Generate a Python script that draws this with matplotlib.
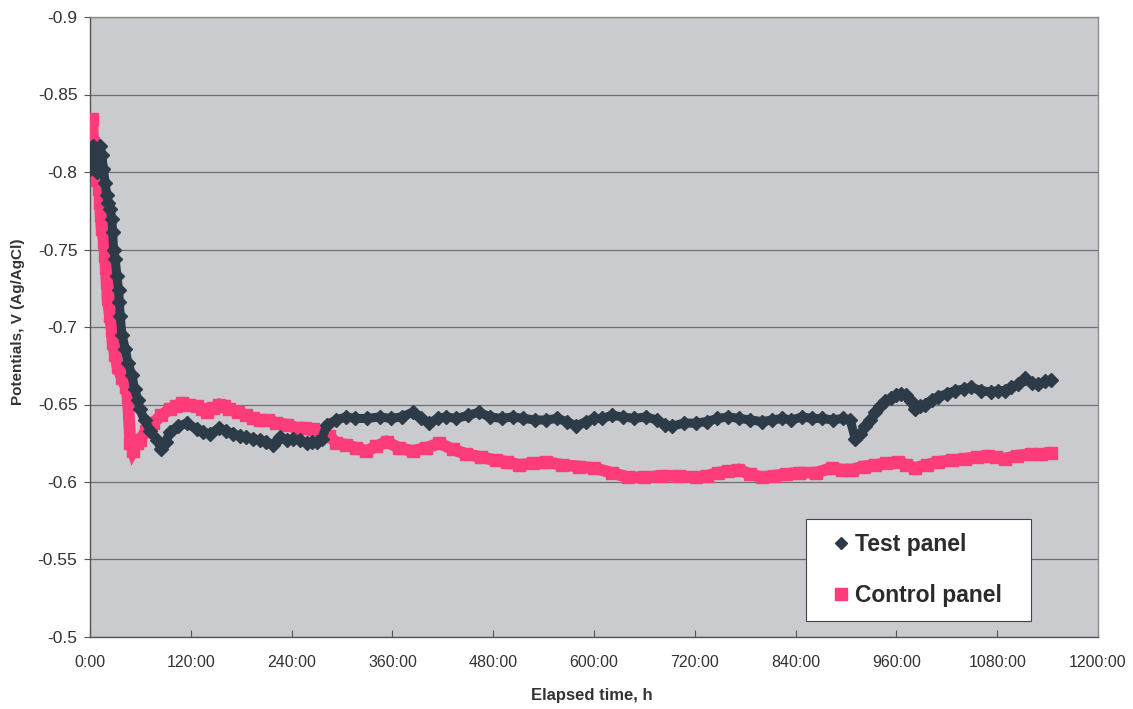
import matplotlib
matplotlib.use("Agg")
import matplotlib.pyplot as plt
from matplotlib.lines import Line2D
from matplotlib.ticker import FixedLocator, FuncFormatter

plt.rcParams['font.family'] = ['Liberation Sans', 'DejaVu Sans']

# ---- data ----
test_hours = [0, 2, 4, 6, 8, 10, 12, 14, 16, 18, 20, 22, 24, 26, 27, 28, 30, 32, 34, 35,
              36, 38, 42, 45, 50, 53, 57, 59, 65, 72, 80, 85, 90, 95, 105, 115, 127, 135,
              143, 154, 162, 170, 178, 186, 194, 202, 210, 218, 226, 234, 242, 250, 258,
              264, 270, 276, 282, 293, 305, 316, 330, 345, 358, 371, 384, 394, 404, 414,
              424, 436, 450, 463, 476, 490, 503, 516, 530, 543, 556, 568, 579, 590, 600,
              610, 621, 635, 648, 662, 675, 684, 693, 707, 721, 734, 747, 760, 773, 786,
              800, 812, 824, 835, 848, 860, 872, 884, 896, 905, 911, 917, 923, 929, 935,
              941, 947, 953, 959, 965, 971, 977, 982, 988, 994, 1002, 1010, 1020, 1030,
              1040, 1049, 1061, 1073, 1081, 1089, 1097, 1105, 1113, 1121, 1129, 1137, 1144]
test_volts = [-0.802, -0.812, -0.817, -0.808, -0.800, -0.812, -0.817, -0.811, -0.802,
              -0.793, -0.785, -0.780, -0.776, -0.770, -0.761, -0.750, -0.744, -0.733,
              -0.724, -0.716, -0.707, -0.695, -0.686, -0.677, -0.669, -0.660, -0.653,
              -0.647, -0.640, -0.633, -0.627, -0.621, -0.626, -0.632, -0.636, -0.638,
              -0.634, -0.632, -0.631, -0.635, -0.633, -0.631, -0.630, -0.629, -0.628,
              -0.627, -0.626, -0.624, -0.629, -0.627, -0.628, -0.627, -0.625, -0.626,
              -0.626, -0.628, -0.637, -0.640, -0.642, -0.641, -0.641, -0.642, -0.641,
              -0.642, -0.645, -0.641, -0.638, -0.641, -0.642, -0.641, -0.643, -0.645,
              -0.642, -0.641, -0.642, -0.641, -0.640, -0.640, -0.641, -0.639, -0.636,
              -0.639, -0.641, -0.641, -0.643, -0.642, -0.641, -0.642, -0.640, -0.637,
              -0.636, -0.638, -0.638, -0.639, -0.641, -0.642, -0.641, -0.640, -0.639,
              -0.640, -0.641, -0.640, -0.642, -0.641, -0.641, -0.640, -0.641, -0.640,
              -0.628, -0.631, -0.636, -0.640, -0.645, -0.649, -0.652, -0.654, -0.656,
              -0.657, -0.656, -0.652, -0.647, -0.649, -0.650, -0.653, -0.655, -0.657,
              -0.659, -0.660, -0.661, -0.659, -0.658, -0.659, -0.659, -0.661, -0.663,
              -0.667, -0.664, -0.663, -0.665, -0.666]

control_hours = [1, 2, 4, 6, 7, 8, 11, 12, 13, 14, 17, 18, 19, 20, 21, 24, 26, 27, 30, 33,
                 38, 43, 45, 48, 51, 56, 59, 67, 75, 85, 95, 102, 110, 118, 127, 133, 139,
                 147, 154, 160, 166, 176, 186, 194, 202, 212, 222, 234, 246, 256, 265, 277,
                 285, 293, 305, 317, 329, 341, 353, 368, 384, 400, 416, 432, 448, 466, 483,
                 497, 511, 527, 543, 562, 582, 600, 621, 641, 660, 681, 701, 721, 735, 748,
                 760, 772, 786, 800, 814, 828, 844, 864, 883, 895, 907, 921, 935, 948, 962,
                 972, 982, 996, 1010, 1026, 1042, 1056, 1069, 1079, 1089, 1104, 1120, 1132,
                 1144]
control_volts = [-0.826, -0.834, -0.819, -0.811, -0.803, -0.795, -0.789, -0.780, -0.772,
                 -0.763, -0.755, -0.746, -0.738, -0.729, -0.718, -0.707, -0.698, -0.690,
                 -0.682, -0.674, -0.667, -0.661, -0.655, -0.625, -0.620, -0.625, -0.627,
                 -0.633, -0.638, -0.643, -0.647, -0.649, -0.651, -0.650, -0.649, -0.647,
                 -0.645, -0.648, -0.650, -0.649, -0.647, -0.645, -0.643, -0.641, -0.640,
                 -0.640, -0.638, -0.637, -0.635, -0.635, -0.634, -0.632, -0.630, -0.625,
                 -0.624, -0.622, -0.620, -0.623, -0.626, -0.622, -0.620, -0.622, -0.625,
                 -0.621, -0.618, -0.616, -0.614, -0.613, -0.611, -0.612, -0.613, -0.611,
                 -0.610, -0.609, -0.606, -0.603, -0.603, -0.604, -0.604, -0.603, -0.604,
                 -0.606, -0.607, -0.608, -0.605, -0.603, -0.604, -0.605, -0.606, -0.606,
                 -0.609, -0.608, -0.608, -0.610, -0.611, -0.612, -0.613, -0.611, -0.609,
                 -0.611, -0.613, -0.614, -0.615, -0.616, -0.617, -0.616, -0.615, -0.617,
                 -0.618, -0.618, -0.619]

x_ticks = [0, 120, 240, 360, 480, 600, 720, 840, 960, 1080, 1200]
y_ticks = [-0.9, -0.85, -0.8, -0.75, -0.7, -0.65, -0.6, -0.55, -0.5]
series_names = ["Test panel", "Control panel"]

test_color = "#2d3b49"
control_color = "#fd3c79"

fig = plt.figure(figsize=(11.33, 7.09), dpi=100)
ax = fig.add_axes([90 / 1133, 1 - 637 / 709, 1008 / 1133, 620 / 709])
ax.set_facecolor("#c9cbce")

# connecting bands (to mimic dense markers), then markers
ax.plot(control_hours, control_volts, '-', color=control_color, lw=8.5,
        solid_capstyle='butt', solid_joinstyle='miter', zorder=2)
ax.plot(control_hours, control_volts, 's', color=control_color, ms=8.5,
        mec=control_color, zorder=3)
ax.plot(test_hours, test_volts, '-', color=test_color, lw=6.5,
        solid_capstyle='round', zorder=4)
ax.plot(test_hours, test_volts, 'D', color=test_color, ms=7,
        mec=test_color, zorder=5)

ax.set_xlim(0, 1200)
ax.set_ylim(-0.5, -0.9)
ax.xaxis.set_major_locator(FixedLocator(x_ticks))
ax.yaxis.set_major_locator(FixedLocator(y_ticks))
ax.xaxis.set_major_formatter(FuncFormatter(lambda v, p: f"{int(round(v))}:00"))
ax.yaxis.set_major_formatter(FuncFormatter(lambda v, p: f"{v:g}"))

ax.grid(axis='y', color="#6e6e6e", lw=0.9, zorder=1)
ax.set_axisbelow(True)

for side in ("left", "bottom"):
    ax.spines[side].set_color("#555555")
    ax.spines[side].set_linewidth(1.0)
for side in ("top", "right"):
    ax.spines[side].set_color("#8c8c8c")
    ax.spines[side].set_linewidth(1.0)

ax.tick_params(axis='x', direction='in', length=5, width=0.8, color="#555555",
               labelsize=11.5, labelcolor="#333333", pad=13)
ax.tick_params(axis='y', direction='out', length=4, width=0.8, color="#555555",
               labelsize=12.5, labelcolor="#333333", pad=5)

ax.set_xlabel("Elapsed time, h", fontsize=12, fontweight='bold', color="#333333")
ax.xaxis.set_label_coords(0.498, -0.083)
ax.set_ylabel("Potentials, V (Ag/AgCl)", fontsize=11, fontweight='bold', color="#333333")
ax.yaxis.set_label_coords(-0.0645, 0.508)

handles = [
    Line2D([], [], marker='D', ls='none', color=test_color, ms=6),
    Line2D([], [], marker='s', ls='none', color=control_color, ms=8),
]
leg = ax.legend(handles, series_names, loc='upper left',
                bbox_to_anchor=(806 / 1133, 0.1255, 225 / 1133, 0.1425),
                bbox_transform=fig.transFigure, mode='expand',
                fontsize=16.5, prop={'weight': 'bold', 'size': 16.5},
                frameon=True, fancybox=False, framealpha=1, edgecolor="#444444",
                borderpad=0.6, labelspacing=1.25, handlelength=1.86,
                handletextpad=-0.32, borderaxespad=0)
leg.get_frame().set_linewidth(0.8)
for t in leg.get_texts():
    t.set_color("#2b2b2b")

fig.savefig("out.png", dpi=100, facecolor="white")
